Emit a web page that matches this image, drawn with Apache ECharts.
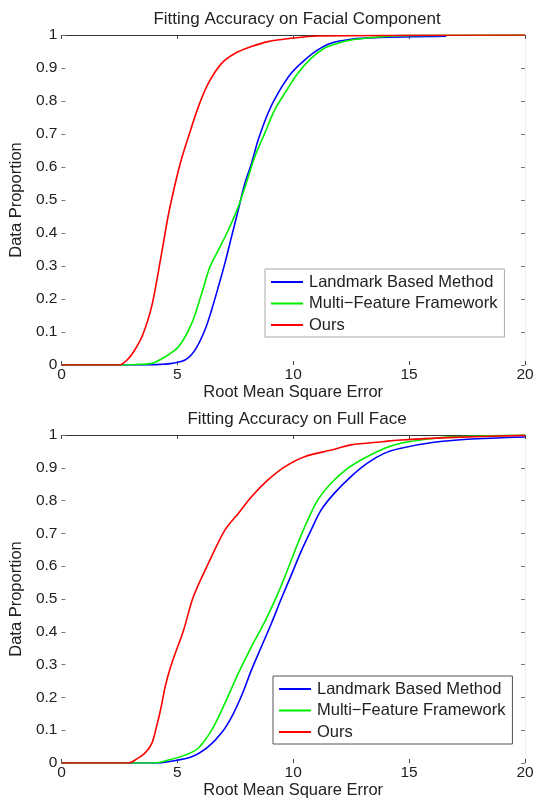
<!DOCTYPE html>
<html>
<head>
<meta charset="utf-8">
<script src="https://cdn.jsdelivr.net/npm/echarts@6/dist/echarts.min.js"></script>
<style>
html,body{margin:0;padding:0;background:#fff;}
#main{width:541px;height:800px;}
</style>
</head>
<body>
<div id="main"></div>
<script>
// 名称
var seriesNames = ['Landmark Based Method', 'Multi\u2212Feature Framework', 'Ours'];
var seriesColors = ['#0000ff', '#00ee00', '#ff0000'];

// 上图: Facial Component  [RMSE, proportion]
var compLandmark = [[0,0],[3.7,0],[4.3,0.002],[4.76,0.005],[5.33,0.015],[5.76,0.045],[6.19,0.106],[6.48,0.167],[6.77,0.237],
    [7.05,0.308],[7.34,0.389],[7.63,0.47],[7.91,0.55],[8.2,0.611],[8.48,0.68],[8.91,0.763],[9.34,0.823],[9.91,0.884],
    [10.49,0.924],[11.06,0.955],[11.63,0.975],[12.5,0.987],[13.5,0.992],[16.6,0.996]];
var compMulti = [[0,0],[2.6,0],[3.3,0.002],[3.9,0.005],[4.48,0.025],[5.05,0.055],[5.62,0.126],[6.05,0.217],[6.41,0.298],
    [6.77,0.348],[7.2,0.409],[7.63,0.48],[8.06,0.57],[8.34,0.631],[8.77,0.702],[9.2,0.773],[9.63,0.823],[10.2,0.884],
    [10.77,0.929],[11.34,0.96],[11.92,0.975],[12.5,0.985],[13.5,0.993],[14.5,0.998],[20,1]];
var compOurs = [[0,0],[2.5,0],[2.9,0.02],[3.2,0.05],[3.5,0.09],[3.9,0.18],[4.3,0.33],[4.6,0.45],[4.91,0.55],[5.19,0.627],
    [5.48,0.692],[5.91,0.783],[6.34,0.854],[6.91,0.914],[7.48,0.944],[8.2,0.965],[8.91,0.98],[9.91,0.99],[11.06,0.997],[20,1]];

// 下图: Full Face
var fullLandmark = [[0,0],[4.2,0],[4.62,0.004],[5.62,0.019],[6.34,0.05],[6.91,0.092],[7.34,0.14],[7.77,0.205],[8.2,0.284],
    [8.63,0.355],[9.06,0.426],[9.48,0.5],[9.91,0.572],[10.34,0.645],[10.77,0.71],[11.2,0.771],[11.77,0.822],[12.49,0.873],
    [13.2,0.914],[13.92,0.944],[14.6,0.959],[16.0,0.977],[17.5,0.987],[20,0.994]];
var fullMulti = [[0,0],[4.0,0],[4.62,0.009],[5.33,0.024],[5.9,0.045],[6.48,0.10],[7.05,0.182],[7.63,0.273],[8.2,0.355],
    [8.77,0.43],[9.34,0.517],[9.77,0.592],[10.2,0.67],[10.63,0.741],[11.06,0.802],[11.63,0.853],[12.35,0.898],[13.06,0.929],
    [13.92,0.959],[14.63,0.975],[15.5,0.985],[16.7,0.994],[20,1]];
var fullOurs = [[0,0],[2.9,0],[3.2,0.01],[3.6,0.03],[3.9,0.06],[4.1,0.11],[4.3,0.17],[4.5,0.24],[4.76,0.304],[5.27,0.405],
    [5.69,0.507],[6.34,0.609],[7.05,0.71],[7.63,0.761],[8.2,0.812],[8.91,0.863],[9.63,0.903],[10.49,0.934],[11.63,0.954],
    [12.49,0.97],[13.92,0.98],[14.5,0.984],[16.7,0.992],[20,0.999]];

var ChartController = function(){
    var that = this;
    var font = 'Liberation Sans, Arial, sans-serif';

    this.bottomAxis = function(gridIndex){
        return {
            type: 'value', gridIndex: gridIndex, min: 0, max: 20, interval: 5,
            name: 'Root Mean Square Error', nameLocation: 'middle', nameGap: 18,
            nameTextStyle: {fontFamily: font, fontSize: 16.5, color: '#222'},
            axisLine: {show: false},
            axisTick: {show: true, inside: true, length: 4, lineStyle: {color: '#444'}},
            axisLabel: {fontFamily: font, fontSize: 15.5, color: '#222', margin: 2},
            splitLine: {show: false}
        };
    };

    this.topAxis = function(gridIndex){
        return {
            type: 'value', gridIndex: gridIndex, position: 'top', min: 0, max: 20, interval: 5,
            axisLine: {show: true, onZero: false, lineStyle: {color: '#333', width: 1}},
            axisTick: {show: true, inside: true, length: 4, lineStyle: {color: '#444'}},
            axisLabel: {show: false},
            splitLine: {show: false}
        };
    };

    this.leftAxis = function(gridIndex){
        return {
            type: 'value', gridIndex: gridIndex, min: 0, max: 1, interval: 0.1,
            name: 'Data Proportion', nameLocation: 'middle', nameGap: 28,
            nameTextStyle: {fontFamily: font, fontSize: 16.5, color: '#222'},
            axisLine: {show: false},
            axisTick: {show: true, inside: true, length: 4, lineStyle: {color: '#777'}},
            axisLabel: {fontFamily: font, fontSize: 15.5, color: '#222', margin: 4},
            splitLine: {show: false}
        };
    };

    this.rightAxis = function(gridIndex){
        return {
            type: 'value', gridIndex: gridIndex, position: 'right', min: 0, max: 1, interval: 0.1,
            axisLine: {show: true, onZero: false, lineStyle: {color: '#eee'}},
            axisTick: {show: true, inside: true, length: 4, lineStyle: {color: '#777'}},
            axisLabel: {show: false},
            splitLine: {show: false}
        };
    };

    this.lineSeries = function(i, axisIdx, data){
        return {
            name: seriesNames[i], type: 'line',
            xAxisIndex: axisIdx, yAxisIndex: axisIdx,
            data: data, showSymbol: false, smooth: 0.3,
            lineStyle: {color: seriesColors[i], width: 1.6},
            itemStyle: {color: seriesColors[i]},
            animation: false
        };
    };

    this.legend = function(left, top, borderColor){
        return {
            orient: 'vertical', left: left, top: top,
            data: seriesNames, icon: 'rect', itemWidth: 32, itemHeight: 2, itemGap: 3.5,
            padding: [4, 7, 3, 6],
            borderColor: borderColor, borderWidth: 1, backgroundColor: '#fff',
            textStyle: {fontFamily: font, fontSize: 16.5, color: '#222', lineHeight: 18, padding: [0, 0, 0, 1]},
            selectedMode: false
        };
    };

    this.init = function(){
        var myChart = echarts.init(document.getElementById('main'), null, {renderer: 'canvas'});
        var option = {
            backgroundColor: '#fff',
            animation: false,
            title: [
                {text: 'Fitting Accuracy on Facial Component', left: 292, top: 6, textAlign: 'center',
                    textStyle: {fontFamily: font, fontSize: 17, fontWeight: 'normal', color: '#222'}},
                {text: 'Fitting Accuracy on Full Face', left: 292, top: 406, textAlign: 'center',
                    textStyle: {fontFamily: font, fontSize: 17, fontWeight: 'normal', color: '#222'}}
            ],
            grid: [
                {left: 59, right: 16, top: 35, height: 330},
                {left: 59, right: 16, top: 435, height: 328}
            ],
            xAxis: [that.bottomAxis(0), that.bottomAxis(1), that.topAxis(0), that.topAxis(1)],
            yAxis: [that.leftAxis(0), that.leftAxis(1), that.rightAxis(0), that.rightAxis(1)],
            legend: [that.legend(265, 269, '#aaa'), that.legend(273, 676, '#555')],
            series: [
                that.lineSeries(0, 0, compLandmark),
                that.lineSeries(1, 0, compMulti),
                that.lineSeries(2, 0, compOurs),
                that.lineSeries(0, 1, fullLandmark),
                that.lineSeries(1, 1, fullMulti),
                that.lineSeries(2, 1, fullOurs)
            ]
        };
        if (option && typeof option === "object") {
            myChart.setOption(option, true);
        }
    };
};

var controller = new ChartController();
controller.init();
</script>
</body>
</html>
